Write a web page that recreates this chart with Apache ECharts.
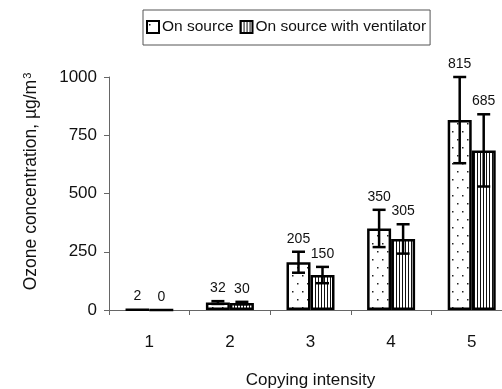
<!DOCTYPE html>
<html>
<head>
<meta charset="utf-8">
<script src="https://cdn.jsdelivr.net/npm/echarts@6/dist/echarts.min.js"></script>
<style>
html,body{margin:0;padding:0;background:#fff;}
#chart{width:502px;height:389px;}
</style>
</head>
<body>
<div id="chart"></div>
<script>
var categories = ['1', '2', '3', '4', '5'];
var onSource = [2, 32, 205, 350, 815];
var withVent = [0, 30, 150, 305, 685];
var onSourceErr = [0, 6, 45, 80, 185];
var withVentErr = [0, 5, 35, 63, 155];
var yTicks = [0, 250, 500, 750, 1000];

var FONT = 'Liberation Sans';
var BAR_W = 24;

// dotted fill
function dotPattern() {
	var c = document.createElement('canvas');
	c.width = 10; c.height = 16;
	var ctx = c.getContext('2d');
	ctx.fillStyle = '#fff';
	ctx.fillRect(0, 0, 10, 16);
	ctx.fillStyle = '#222';
	ctx.fillRect(2, 3, 1.5, 1.5);
	ctx.fillRect(7, 11, 1.5, 1.5);
	return c;
}

// vertical stripes
function stripePattern() {
	var c = document.createElement('canvas');
	c.width = 3; c.height = 4;
	var ctx = c.getContext('2d');
	ctx.fillStyle = '#fff';
	ctx.fillRect(0, 0, 3, 4);
	ctx.fillStyle = '#111';
	ctx.fillRect(0, 0, 1, 4);
	return c;
}

function errorSeries(values, errs, offset) {
	var data = values.map(function (v, i) { return [i, v, errs[i]]; });
	return {
		type: 'custom',
		silent: true,
		z: 10,
		data: data,
		renderItem: function (params, api) {
			var idx = api.value(0), v = api.value(1), e = api.value(2);
			var hi = api.coord([idx, v + e]);
			var lo = api.coord([idx, v - e]);
			var x = hi[0] + offset;
			var children = [];
			if (e > 0) {
				var style = { stroke: '#000', lineWidth: 2.5 };
				children.push(
					{ type: 'line', shape: { x1: x, y1: hi[1], x2: x, y2: lo[1] }, style: style },
					{ type: 'line', shape: { x1: x - 6.5, y1: hi[1], x2: x + 6.5, y2: hi[1] }, style: style },
					{ type: 'line', shape: { x1: x - 6.5, y1: lo[1], x2: x + 6.5, y2: lo[1] }, style: style }
				);
			}
			children.push({
				type: 'text',
				style: {
					x: x, y: hi[1] - 6, text: String(v),
					fill: '#111', font: '14px ' + FONT,
					align: 'center', verticalAlign: 'bottom'
				}
			});
			return { type: 'group', children: children };
		}
	};
}

var myChart = echarts.init(document.getElementById('chart'));

var option = {
	animation: false,
	backgroundColor: '#fff',
	textStyle: { fontFamily: FONT, color: '#111' },
	legend: {
		left: 143,
		top: 10,
		padding: [9, 4, 10, 3],
		borderColor: '#555',
		borderWidth: 1,
		itemWidth: 12,
		itemHeight: 12,
		itemGap: 6,
		icon: 'rect',
		textStyle: { fontSize: 15.5, color: '#111', fontFamily: FONT, padding: [0, 0, 0, -2] },
		data: ['On source', 'On source with ventilator']
	},
	grid: { left: 109, right: -10, top: 77, bottom: 79, outerBoundsMode: 'none', containLabel: false },
	xAxis: {
		type: 'category',
		data: categories,
		name: 'Copying intensity',
		nameLocation: 'middle',
		nameGap: 62,
		nameTextStyle: { fontSize: 17, color: '#111', fontFamily: FONT },
		axisLine: { lineStyle: { color: '#666', width: 1 } },
		axisTick: { show: true, length: 5, lineStyle: { color: '#666' } },
		axisLabel: { fontSize: 17, color: '#111', margin: 24 }
	},
	yAxis: {
		type: 'value',
		min: yTicks[0],
		max: yTicks[yTicks.length - 1],
		interval: 250,
		name: '{a|Ozone concentration, µg/m}{sup|3}',
		nameLocation: 'middle',
		nameGap: 68,
		nameRotate: 90,
		nameTextStyle: {
			padding: [0, 0, 0, 24],
			rich: {
				a: { fontSize: 17.5, color: '#111', fontFamily: FONT },
				sup: { fontSize: 11, color: '#111', fontFamily: FONT, verticalAlign: 'top', padding: [0, 0, 8, 1] }
			}
		},
		axisLine: { show: true, lineStyle: { color: '#666', width: 1 } },
		axisTick: { show: true, length: 5, lineStyle: { color: '#666' } },
		axisLabel: { fontSize: 17, color: '#111', margin: 12, formatter: function (v) { return String(v); } },
		splitLine: { show: false }
	},
	series: [{
		name: 'On source',
		type: 'bar',
		barWidth: BAR_W,
		barGap: '0%',
		data: onSource,
		itemStyle: {
			color: { image: dotPattern(), repeat: 'repeat' },
			borderColor: '#000',
			borderWidth: 2.5
		}
	}, {
		name: 'On source with ventilator',
		type: 'bar',
		barWidth: BAR_W,
		barGap: '0%',
		data: withVent,
		itemStyle: {
			color: { image: stripePattern(), repeat: 'repeat' },
			borderColor: '#000',
			borderWidth: 2.5
		}
	},
	errorSeries(onSource, onSourceErr, -BAR_W / 2),
	errorSeries(withVent, withVentErr, BAR_W / 2)
	]
};

myChart.setOption(option);
</script>
</body>
</html>
